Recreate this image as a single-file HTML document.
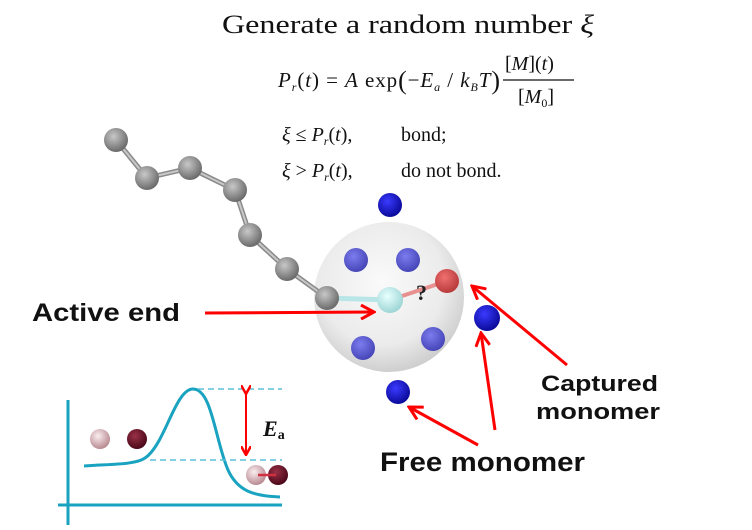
<!DOCTYPE html>
<html><head><meta charset="utf-8"><style>body{margin:0;background:#fff}svg{display:block}</style></head><body>
<svg width="752" height="530" viewBox="0 0 752 530" xmlns="http://www.w3.org/2000/svg">
<defs>
<radialGradient id="sph" cx="0.45" cy="0.4" r="0.6"><stop offset="0" stop-color="#fafafa"/><stop offset="0.7" stop-color="#ebebeb"/><stop offset="1" stop-color="#cfcfcf"/></radialGradient>
<radialGradient id="gr" cx="0.4" cy="0.35" r="0.65"><stop offset="0" stop-color="#c8c8c8"/><stop offset="1" stop-color="#6a6a6a"/></radialGradient>
<radialGradient id="bl" cx="0.4" cy="0.35" r="0.65"><stop offset="0" stop-color="#3a3aff"/><stop offset="1" stop-color="#0a0a9a"/></radialGradient>
<radialGradient id="bli" cx="0.4" cy="0.35" r="0.65"><stop offset="0" stop-color="#7c7cee"/><stop offset="1" stop-color="#4646b8"/></radialGradient>
<radialGradient id="rd" cx="0.4" cy="0.35" r="0.65"><stop offset="0" stop-color="#f07070"/><stop offset="1" stop-color="#b83a3a"/></radialGradient>
<radialGradient id="cy" cx="0.4" cy="0.35" r="0.65"><stop offset="0" stop-color="#e8ffff"/><stop offset="1" stop-color="#9ed6d6"/></radialGradient>
<radialGradient id="pk" cx="0.4" cy="0.35" r="0.65"><stop offset="0" stop-color="#fbeef0"/><stop offset="1" stop-color="#b88a92"/></radialGradient>
<radialGradient id="dk" cx="0.4" cy="0.35" r="0.65"><stop offset="0" stop-color="#9a3048"/><stop offset="1" stop-color="#4a0818"/></radialGradient>
<marker id="ah" markerWidth="10" markerHeight="10" refX="9" refY="5" orient="auto" markerUnits="userSpaceOnUse"><path d="M0,0 L9,5 L0,10" fill="none" stroke="#f00" stroke-width="2.5"/></marker>
<marker id="ah2" markerWidth="16" markerHeight="16" refX="14" refY="8" orient="auto" markerUnits="userSpaceOnUse"><path d="M1,1 L14,8 L1,15" fill="none" stroke="#f00" stroke-width="3"/></marker>
</defs>
<g font-family="Liberation Serif, serif" fill="#111">
<text x="222" y="33" font-size="26" textLength="372" lengthAdjust="spacingAndGlyphs">Generate a random number <tspan font-style="italic">ξ</tspan></text>
<text x="278" y="87" font-size="21" textLength="222" lengthAdjust="spacing"><tspan font-style="italic">P</tspan><tspan font-size="12" dy="4" font-style="italic">r</tspan><tspan dy="-4">(</tspan><tspan font-style="italic">t</tspan>) = <tspan font-style="italic">A</tspan> exp<tspan font-size="26" dy="2">(</tspan><tspan dy="-2">−</tspan><tspan font-style="italic">E</tspan><tspan font-size="12" dy="4" font-style="italic">a</tspan><tspan dy="-4"> / </tspan><tspan font-style="italic">k</tspan><tspan font-size="12" dy="4" font-style="italic">B</tspan><tspan dy="-4" font-style="italic">T</tspan><tspan font-size="26" dy="2">)</tspan></text>
<text x="505" y="70" font-size="20">[<tspan font-style="italic">M</tspan>](<tspan font-style="italic">t</tspan>)</text>
<line x1="503" y1="80" x2="574" y2="80" stroke="#111" stroke-width="1.2"/>
<text x="518" y="103" font-size="20">[<tspan font-style="italic">M</tspan><tspan font-size="12" dy="4">0</tspan><tspan dy="-4">]</tspan></text>
<text x="282" y="141" font-size="20"><tspan font-style="italic">ξ</tspan> ≤ <tspan font-style="italic">P</tspan><tspan font-size="12" dy="4" font-style="italic">r</tspan><tspan dy="-4">(</tspan><tspan font-style="italic">t</tspan>),</text>
<text x="401" y="141" font-size="20">bond;</text>
<text x="282" y="177" font-size="20"><tspan font-style="italic">ξ</tspan> &gt; <tspan font-style="italic">P</tspan><tspan font-size="12" dy="4" font-style="italic">r</tspan><tspan dy="-4">(</tspan><tspan font-style="italic">t</tspan>),</text>
<text x="401" y="177" font-size="20">do not bond.</text>
</g>
<circle cx="389" cy="297" r="75" fill="url(#sph)"/>
<polyline points="116,140 147,178 190,168 235,190 250,235 287,269 327,298" fill="none" stroke="#8a8a8a" stroke-width="5"/>
<polyline points="116,140 147,178 190,168 235,190 250,235 287,269 327,298" fill="none" stroke="#c8c8c8" stroke-width="2"/>
<line x1="327" y1="298" x2="390" y2="300" stroke="#b8e6e6" stroke-width="5"/>
<line x1="390" y1="300" x2="447" y2="281" stroke="#e89090" stroke-width="4"/>
<g fill="url(#gr)">
<circle cx="116" cy="140" r="12"/><circle cx="147" cy="178" r="12"/><circle cx="190" cy="168" r="12"/><circle cx="235" cy="190" r="12"/><circle cx="250" cy="235" r="12"/><circle cx="287" cy="269" r="12"/><circle cx="327" cy="298" r="12"/>
</g>
<circle cx="390" cy="300" r="13" fill="url(#cy)"/>
<circle cx="447" cy="281" r="12" fill="url(#rd)"/>
<text x="416" y="300" font-family="Liberation Serif, serif" font-weight="bold" font-size="22" fill="#222">?</text>
<g fill="url(#bli)"><circle cx="356" cy="260" r="12"/><circle cx="408" cy="260" r="12"/><circle cx="363" cy="348" r="12"/><circle cx="433" cy="339" r="12"/></g>
<g fill="url(#bl)"><circle cx="390" cy="205" r="12"/><circle cx="487" cy="318" r="13"/><circle cx="398" cy="392" r="12"/></g>
<g stroke="#f00" stroke-width="3" fill="none">
<line x1="205" y1="313" x2="374" y2="312" marker-end="url(#ah2)"/>
<line x1="567" y1="365" x2="472" y2="286" marker-end="url(#ah2)"/>
<line x1="495" y1="430" x2="481" y2="333" marker-end="url(#ah2)"/>
<line x1="478" y1="445" x2="409" y2="407" marker-end="url(#ah2)"/>
</g>
<g font-family="Liberation Sans, sans-serif" font-weight="bold" fill="#111">
<text x="32" y="321" font-size="25" textLength="148" lengthAdjust="spacingAndGlyphs">Active end</text>
<text x="541" y="391" font-size="22" textLength="117" lengthAdjust="spacingAndGlyphs">Captured</text>
<text x="536" y="419" font-size="22" textLength="124" lengthAdjust="spacingAndGlyphs">monomer</text>
<text x="380" y="471" font-size="27" textLength="205" lengthAdjust="spacingAndGlyphs">Free monomer</text>
</g>
<g stroke="#1aa3c0" stroke-width="3" fill="none">
<line x1="68" y1="400" x2="68" y2="525"/>
<line x1="58" y1="505" x2="282" y2="505"/>
<path d="M84,466 C110,464 135,465 145,458 C165,445 175,389 193,389 C212,389 215,440 228,470 C238,492 255,496 280,497"/>
</g>
<g stroke="#5bc0d8" stroke-width="1.5" stroke-dasharray="6,4"><line x1="198" y1="389" x2="282" y2="389"/><line x1="150" y1="460" x2="282" y2="460"/></g>
<line x1="246" y1="394" x2="246" y2="455" stroke="#f00" stroke-width="2" marker-end="url(#ah)" marker-start="url(#ah)"/>
<text x="263" y="436" font-family="Liberation Serif, serif" font-weight="bold" font-style="italic" font-size="22" fill="#111">E<tspan font-size="14" font-style="normal" dy="3">a</tspan></text>
<circle cx="100" cy="439" r="10" fill="url(#pk)"/><circle cx="137" cy="439" r="10" fill="url(#dk)"/>
<circle cx="278" cy="475" r="10" fill="url(#dk)"/><circle cx="256" cy="475" r="10" fill="url(#pk)"/>
<line x1="258" y1="475" x2="276" y2="475" stroke="#d03040" stroke-width="2.5"/>
</svg>
</body></html>
